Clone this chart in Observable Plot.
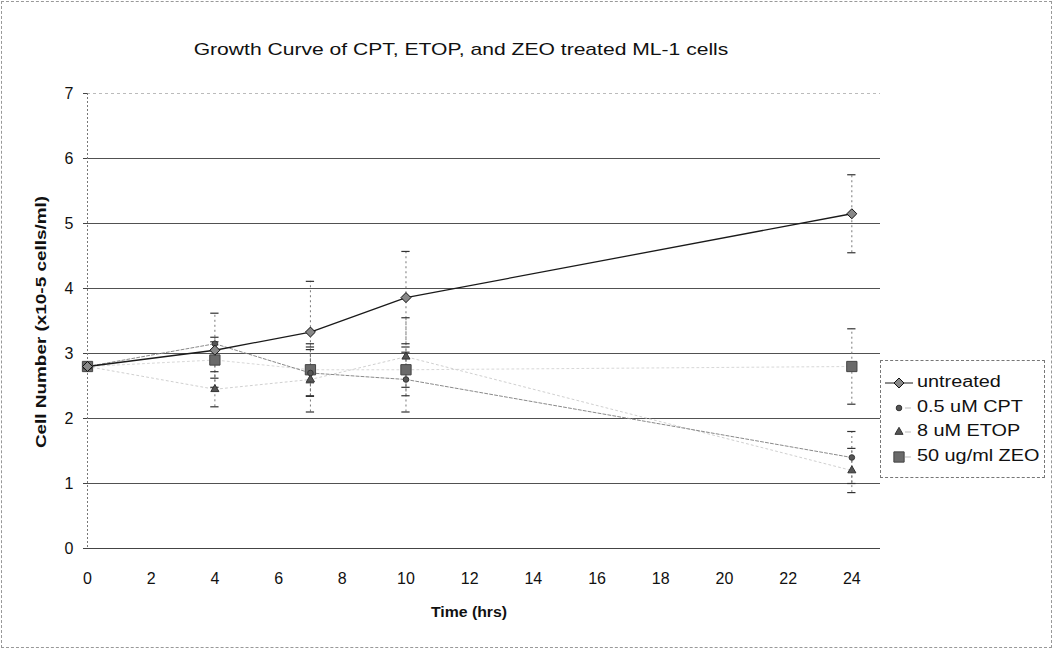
<!DOCTYPE html>
<html>
<head>
<meta charset="utf-8">
<script src="https://cdn.jsdelivr.net/npm/d3@7"></script>
<script src="https://cdn.jsdelivr.net/npm/@observablehq/plot@0.6"></script>
<style>
  html, body { margin: 0; padding: 0; background: #fff; }
  #wrap { position: relative; width: 1055px; height: 651px; font-family: "Liberation Sans", Arial, sans-serif; color: #111; }
  #border { position: absolute; left: 1px; top: 1px; width: 1051px; height: 647px; border: 1px dashed #999; box-sizing: border-box; pointer-events: none; }
  #title { position: absolute; left: 0; width: 922px; top: 40px; text-align: center; font-size: 17px; transform: scaleX(1.24); transform-origin: 461px 0; }
  #xlabel { position: absolute; left: 369px; width: 200px; top: 604px; text-align: center; font-size: 14px; font-weight: bold; transform: scaleX(1.13); transform-origin: 100px 0; }
  #ylabel { position: absolute; left: 40px; top: 322px; transform: translate(-50%, -50%) rotate(-90deg) scaleX(1.26); white-space: nowrap; font-size: 15px; font-weight: bold; }
  #legend { position: absolute; left: 880px; top: 360px; width: 165px; height: 118px; border: 1px dashed #777; box-sizing: border-box; }
  .item { position: absolute; left: 0; height: 20px; width: 165px; font-size: 16px; }
  .item svg { position: absolute; left: 2px; top: 0; }
  .item span { position: absolute; left: 36px; top: 0px; transform: scaleX(1.24); transform-origin: 0 0; white-space: nowrap; }
</style>
</head>
<body>
<div id="wrap">
  <div id="chart"></div>
  <div id="title"></div>
  <div id="xlabel"></div>
  <div id="ylabel"></div>
  <div id="legend"></div>
  <div id="border"></div>
</div>
<script>
const title = "Growth Curve of CPT, ETOP, and ZEO treated ML-1 cells";
const xTitle = "Time (hrs)";
const yTitle = "Cell Number (x10-5 cells/ml)";
const xTicks = [0, 2, 4, 6, 8, 10, 12, 14, 16, 18, 20, 22, 24];
const yTicks = [0, 1, 2, 3, 4, 5, 6, 7];

const hours = [0, 4, 7, 10, 24];
const seriesNames = ["untreated", "0.5 uM CPT", "8 uM ETOP", "50 ug/ml ZEO"];
const untreated = [2.8, 3.05, 3.33, 3.86, 5.15];
const untreatedErr = [0, 0.57, 0.78, 0.71, 0.6];
const cpt = [2.8, 3.15, 2.7, 2.6, 1.4];
const cptErr = [0, 0.1, 0.36, 0.5, 0.4];
const etop = [2.8, 2.45, 2.6, 2.95, 1.2];
const etopErr = [0, 0.27, 0.5, 0.6, 0.34];
const zeo = [2.8, 2.9, 2.75, 2.75, 2.8];
const zeoErr = [0, 0.28, 0.4, 0.27, 0.58];

const styles = {
  "untreated":    {symbol: "diamond2", r: 4.5, fill: "#888", stroke: "#111", line: "#1a1a1a", lw: 1.3, dash: null},
  "0.5 uM CPT":   {symbol: "circle",   r: 2.8, fill: "#555", stroke: "#333", line: "#8a8a8a", lw: 1, dash: "3,2"},
  "8 uM ETOP":    {symbol: "triangle", r: 3,   fill: "#555", stroke: "#333", line: "#d0d0d0", lw: 1, dash: "2,3"},
  "50 ug/ml ZEO": {symbol: "square",   r: 5.8, fill: "#6a6a6a", stroke: "#444", line: "#d8d8d8", lw: 1, dash: "2,3"}
};

const valueSets = [untreated, cpt, etop, zeo];
const errSets = [untreatedErr, cptErr, etopErr, zeoErr];
const rows = [];
seriesNames.forEach((name, si) => {
  hours.forEach((h, i) => {
    rows.push({series: name, x: h, y: valueSets[si][i], e: errSets[si][i]});
  });
});
const errRows = rows.filter(d => d.e > 0);
const capHalf = 0.13;

const marks = [
  Plot.ruleY(yTicks.filter(v => v > 0 && v < 7), {stroke: "#333", strokeWidth: 1, strokeOpacity: 0.85}),
  Plot.ruleY([7], {stroke: "#bbb", strokeWidth: 1, strokeDasharray: "3,3"}),
  Plot.ruleY([0], {stroke: "#444", strokeWidth: 1}),
  Plot.ruleX([0], {stroke: "#777", strokeWidth: 1, strokeDasharray: "2,2"}),
  Plot.ruleX(errRows, {x: "x", y1: d => d.y - d.e, y2: d => d.y + d.e, stroke: "#777", strokeWidth: 1, strokeDasharray: "2,3"}),
  Plot.ruleY(errRows, {y: d => d.y + d.e, x1: d => d.x - capHalf, x2: d => d.x + capHalf, stroke: "#333", strokeWidth: 1.2}),
  Plot.ruleY(errRows, {y: d => d.y - d.e, x1: d => d.x - capHalf, x2: d => d.x + capHalf, stroke: "#333", strokeWidth: 1.2})
];
["50 ug/ml ZEO", "8 uM ETOP", "0.5 uM CPT", "untreated"].forEach(name => {
  const s = styles[name];
  marks.push(Plot.line(rows.filter(d => d.series === name), {x: "x", y: "y", stroke: s.line, strokeWidth: s.lw, strokeDasharray: s.dash}));
});
["50 ug/ml ZEO", "8 uM ETOP", "0.5 uM CPT", "untreated"].forEach(name => {
  const s = styles[name];
  marks.push(Plot.dot(rows.filter(d => d.series === name), {x: "x", y: "y", symbol: () => s.symbol, r: s.r, fill: s.fill, stroke: s.stroke, strokeWidth: 1}));
});
marks.push(
  Plot.axisY({ticks: yTicks, tickFormat: "d", tickSize: 4, tickPadding: 10, label: null, stroke: "#444", fontSize: 16}),
  Plot.axisX({ticks: xTicks, tickFormat: "d", tickSize: 0, tickPadding: 24, label: null, fontSize: 16})
);

const chart = Plot.plot({
  width: 1055,
  height: 651,
  marginLeft: 87,
  marginRight: 175,
  marginTop: 93,
  marginBottom: 103,
  x: {domain: [0, 24.9]},
  y: {domain: [0, 7]},
  style: {fontFamily: "'Liberation Sans', Arial, sans-serif", fontSize: "16px", color: "#111", background: "transparent"},
  marks
});
document.getElementById("chart").appendChild(chart);

document.getElementById("title").textContent = title;
document.getElementById("xlabel").textContent = xTitle;
document.getElementById("ylabel").textContent = yTitle;

const legend = document.getElementById("legend");
const sym = {diamond2: d3.symbolDiamond2, circle: d3.symbolCircle, triangle: d3.symbolTriangle, square: d3.symbolSquare};
seriesNames.forEach((name, i) => {
  const s = styles[name];
  const item = document.createElement("div");
  item.className = "item";
  item.style.top = (12 + i * 24.5) + "px";
  const svg = d3.create("svg").attr("width", 34).attr("height", 20);
  if (name === "untreated") {
    svg.append("line").attr("x1", 2).attr("x2", 30).attr("y1", 10).attr("y2", 10).attr("stroke", s.line).attr("stroke-width", 1);
  } else {
    svg.append("line").attr("x1", 22).attr("x2", 28).attr("y1", 10).attr("y2", 10).attr("stroke", "#bbb").attr("stroke-width", 1);
  }
  const area = Math.PI * s.r * s.r;
  svg.append("path").attr("transform", "translate(16,10)")
    .attr("d", d3.symbol(sym[s.symbol], area)())
    .attr("fill", s.fill).attr("stroke", s.stroke).attr("stroke-width", 1);
  item.appendChild(svg.node());
  const label = document.createElement("span");
  label.textContent = name;
  item.appendChild(label);
  legend.appendChild(item);
});
</script>
</body>
</html>
